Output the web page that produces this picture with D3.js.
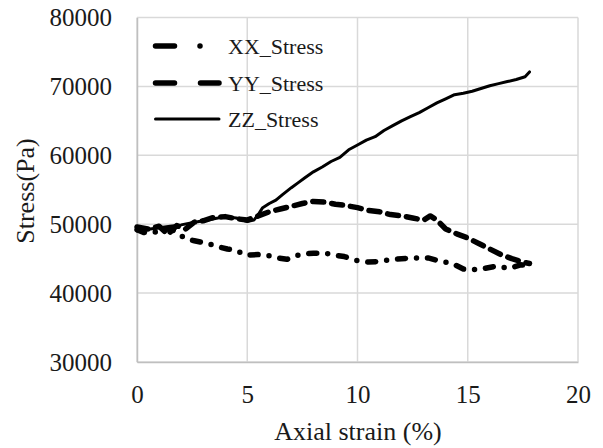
<!DOCTYPE html>
<html><head><meta charset="utf-8">
<script src="https://cdn.jsdelivr.net/npm/d3@7"></script>
<style>
html,body{margin:0;padding:0;background:#fff;}
svg text{font-family:"Liberation Serif","Tinos","Times New Roman","Nimbus Roman","DejaVu Serif",serif;fill:#1a1a1a;}
</style></head>
<body><svg id="c" width="603" height="448"></svg>
<script>
// ---- data ----
const xTicks = [0, 5, 10, 15, 20];
const yTicks = [30000, 40000, 50000, 60000, 70000, 80000];
const seriesNames = ["XX_Stress", "YY_Stress", "ZZ_Stress"];

const xxStrain = [0, 0.3, 0.6, 1.0, 1.5, 2.0, 2.3, 2.6, 3.2, 3.7, 4.1, 4.5, 4.9, 5.5, 6.0, 6.4, 6.8, 7.3, 7.6, 8.0, 8.5, 9.0, 9.4, 10.0, 10.5, 11.0, 11.6, 12.0, 12.5, 13.2, 13.8, 14.3, 14.8, 15.4, 15.8, 16.3, 16.9, 17.4, 17.8];
const xxStress = [49200, 48800, 48700, 49000, 49400, 48300, 47800, 47600, 47200, 46700, 46400, 46200, 45500, 45600, 45400, 45100, 44900, 45500, 45700, 45800, 45800, 45500, 45300, 44700, 44500, 44600, 44900, 45000, 45100, 45100, 44600, 44300, 43500, 43400, 43600, 43900, 43600, 44100, 44000];

const yyStrain = [0, 0.5, 1.0, 1.4, 1.8, 2.2, 2.6, 3.0, 3.5, 4.0, 4.5, 5.0, 5.5, 6.0, 6.5, 7.0, 7.5, 8.0, 8.5, 9.0, 9.5, 10.0, 10.5, 11.0, 11.5, 12.0, 12.5, 13.0, 13.3, 13.6, 14.0, 14.5, 15.0, 15.5, 16.0, 16.5, 17.0, 17.5, 17.8];
const yyStress = [49600, 49300, 49700, 48500, 49800, 49300, 50300, 50500, 51000, 51100, 50800, 50600, 51200, 51800, 52200, 52600, 53000, 53300, 53200, 52900, 52700, 52400, 52000, 51800, 51400, 51200, 50900, 50600, 51200, 50600, 49300, 48600, 48000, 47200, 46400, 45600, 45000, 44500, 44300];

const zzStrain = [0, 0.3, 0.6, 1.0, 1.5, 2.0, 2.5, 3.0, 3.5, 4.0, 4.5, 5.0, 5.3, 5.5, 5.7, 6.0, 6.3, 6.6, 7.0, 7.3, 7.6, 8.0, 8.4, 8.8, 9.2, 9.6, 10.0, 10.4, 10.8, 11.2, 11.6, 12.0, 12.4, 12.8, 13.2, 13.6, 14.0, 14.4, 14.8, 15.2, 15.6, 16.0, 16.4, 16.8, 17.2, 17.6, 17.8];
const zzStress = [49000, 49100, 49300, 49500, 49700, 49900, 50200, 50500, 50800, 51100, 50900, 50400, 50600, 51400, 52400, 53000, 53500, 54300, 55300, 56000, 56700, 57600, 58300, 59100, 59700, 60800, 61500, 62200, 62700, 63600, 64300, 65000, 65600, 66200, 66900, 67600, 68200, 68800, 69000, 69300, 69700, 70100, 70400, 70700, 71000, 71400, 72100];

// ---- layout ----
const svg = d3.select("#c");
const x = d3.scaleLinear().domain([0, 20]).range([137, 578]);
const y = d3.scaleLinear().domain([30000, 80000]).range([362, 17.5]);
const grid = "#d9d9d9";

svg.append("g").selectAll("line").data(yTicks).join("line")
  .attr("x1", x(0)).attr("x2", x(20)).attr("y1", d => y(d)).attr("y2", d => y(d))
  .attr("stroke", grid).attr("stroke-width", 1.5);
svg.append("g").selectAll("line").data(xTicks).join("line")
  .attr("x1", d => x(d)).attr("x2", d => x(d)).attr("y1", y(30000)).attr("y2", y(80000))
  .attr("stroke", grid).attr("stroke-width", 1.5);

const xAxis = d3.axisBottom(x).tickValues(xTicks).tickSize(0).tickPadding(23).tickFormat(d3.format("d"));
const gx = svg.append("g").attr("transform", `translate(0,${y(30000)})`).call(xAxis);
gx.attr("font-family", null);
gx.select(".domain").attr("stroke", "#bfbfbf").attr("stroke-width", 1.5);
gx.selectAll("text").attr("font-size", 25).attr("fill", "#1a1a1a");

const yAxis = d3.axisLeft(y).tickValues(yTicks).tickSize(0).tickPadding(25).tickFormat(d3.format("d"));
const gy = svg.append("g").attr("transform", `translate(${x(0)},0)`).call(yAxis);
gy.attr("font-family", null);
gy.select(".domain").attr("stroke", "#bfbfbf").attr("stroke-width", 1.5);
gy.selectAll("text").attr("font-size", 25).attr("fill", "#1a1a1a");

svg.append("text").attr("x", 358).attr("y", 440).attr("text-anchor", "middle")
  .attr("font-size", 26).text("Axial strain (%)");
svg.append("text").attr("transform", "translate(34,191) rotate(-90)").attr("text-anchor", "middle")
  .attr("font-size", 26).text("Stress(Pa)");

const line = d3.line().x(d => x(d[0])).y(d => y(d[1]));
const zip = (a, b) => a.map((v, i) => [v, b[i]]);
const styles = [
  {data: zip(xxStrain, xxStress), w: 5.5, dash: "8,11,0,11"},
  {data: zip(yyStrain, yyStress), w: 5.5, dash: "11,8"},
  {data: zip(zzStrain, zzStress), w: 3, dash: null}
];
styles.forEach(s => {
  const p = svg.append("path").datum(s.data).attr("d", line)
    .attr("fill", "none").attr("stroke", "#000").attr("stroke-width", s.w)
    .attr("stroke-linecap", "round").attr("stroke-linejoin", "round");
  if (s.dash) p.attr("stroke-dasharray", s.dash);
});

const leg = [
  {y: 46, w: 5.5, dash: "19,25.5,0,100"},
  {y: 83, w: 5.5, dash: "19,26,19"},
  {y: 119, w: 3, dash: null}
];
leg.forEach((l, i) => {
  const ln = svg.append("line").attr("x1", 155.5).attr("x2", 219).attr("y1", l.y).attr("y2", l.y)
    .attr("stroke", "#000").attr("stroke-width", l.w).attr("stroke-linecap", "round");
  if (l.dash) ln.attr("stroke-dasharray", l.dash);
  svg.append("text").attr("x", 228).attr("y", l.y + 8).attr("font-size", 22).text(seriesNames[i]);
});
</script></body></html>
